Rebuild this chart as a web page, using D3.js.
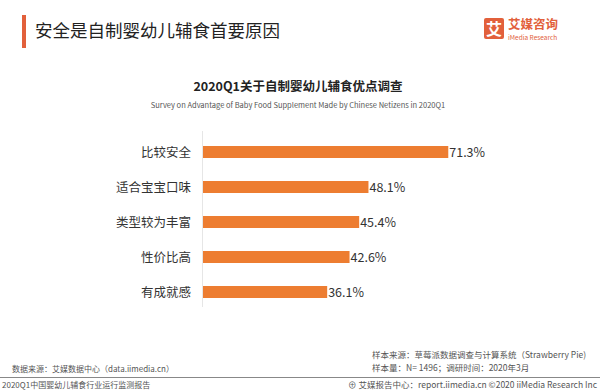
<!DOCTYPE html>
<html><head><meta charset="utf-8">
<script src="https://cdn.jsdelivr.net/npm/d3@7"></script>
<style>
html,body{margin:0;padding:0;background:#fff;}
svg{display:block;font-family:"Noto Sans CJK SC","Noto Sans",sans-serif;}
</style></head>
<body><svg id="c" width="600" height="390"></svg>
<script>
const categories = ["比较安全","适合宝宝口味","类型较为丰富","性价比高","有成就感"];
const values = [71.3, 48.1, 45.4, 42.6, 36.1];
const valueLabels = ["71.3%","48.1%","45.4%","42.6%","36.1%"];

const svg = d3.select("#c");

// header
svg.append("rect").attr("x",22).attr("y",15).attr("width",4).attr("height",33).attr("fill","#e2603b");
svg.append("text").attr("x",35).attr("y",37).attr("font-size",17.5).attr("fill","#222").text("安全是自制婴幼儿辅食首要原因");

// logo
const lg = svg.append("g");
lg.append("rect").attr("x",484).attr("y",18).attr("width",20).attr("height",21).attr("rx",2).attr("fill","#e2603b");
lg.append("text").attr("x",494).attr("y",35).attr("text-anchor","middle").attr("font-size",16).attr("font-weight","bold").attr("fill","#fff").text("艾");
lg.append("text").attr("x",508).attr("y",29).attr("font-size",12.5).attr("font-weight","bold").attr("fill","#e2603b").text("艾媒咨询");
lg.append("text").attr("x",508).attr("y",39.5).attr("font-size",6.5).attr("fill","#e2603b").text("iMedia Research");

// chart titles
svg.append("text").attr("x",298).attr("y",91).attr("text-anchor","middle").attr("font-size",12.5).attr("font-weight","bold").attr("fill","#222").text("2020Q1关于自制婴幼儿辅食优点调查");
svg.append("text").attr("x",298).attr("y",108).attr("text-anchor","middle").attr("font-size",7.5).attr("fill","#555").text("Survey on Advantage of Baby Food Supplement Made by Chinese Netizens in 2020Q1");

// scales
const x = d3.scaleLinear().domain([0,100]).range([203,547]);
const y = d3.scalePoint().domain(categories).range([152,292]);
const bh = 12;

// axis line
svg.append("line").attr("x1",202.5).attr("x2",202.5).attr("y1",131).attr("y2",307).attr("stroke","#e6e6e6").attr("stroke-width",1);

const data = categories.map((c,i)=>({c, v:values[i], l:valueLabels[i]}));
svg.selectAll("rect.bar").data(data).join("rect").attr("class","bar")
  .attr("x",x(0)).attr("y",d=>y(d.c)-bh/2).attr("width",d=>x(d.v)-x(0)).attr("height",bh).attr("fill","#ed7d31");
svg.selectAll("text.cat").data(data).join("text").attr("class","cat")
  .attr("x",191).attr("y",d=>y(d.c)+4.5).attr("text-anchor","end").attr("font-size",12.5).attr("fill","#333").text(d=>d.c);
svg.selectAll("text.val").data(data).join("text").attr("class","val")
  .attr("x",d=>x(d.v)+1).attr("y",d=>y(d.c)+5).attr("font-size",12.5).attr("fill","#333").text(d=>d.l);

// footer
const fc = "#555";
svg.append("text").attr("x",372).attr("y",358).attr("font-size",8.5).attr("fill",fc).text("样本来源：草莓派数据调查与计算系统（Strawberry  Pie)");
svg.append("text").attr("x",372).attr("y",371).attr("font-size",8.5).attr("fill",fc).text("样本量：N= 1496；调研时间：2020年3月");
svg.append("text").attr("x",12).attr("y",372).attr("font-size",8).attr("fill",fc).text("数据来源：艾媒数据中心（data.iimedia.cn）");
svg.append("line").attr("x1",0).attr("x2",600).attr("y1",377.5).attr("y2",377.5).attr("stroke","#888").attr("stroke-width",1);
svg.append("text").attr("x",2).attr("y",388).attr("font-size",8).attr("fill",fc).text("2020Q1中国婴幼儿辅食行业运行监测报告");
svg.append("text").attr("x",597).attr("y",388).attr("text-anchor","end").attr("font-size",8.5).attr("fill",fc).text("⊕ 艾媒报告中心：report.iimedia.cn  ©2020  iiMedia Research Inc");
</script></body></html>
